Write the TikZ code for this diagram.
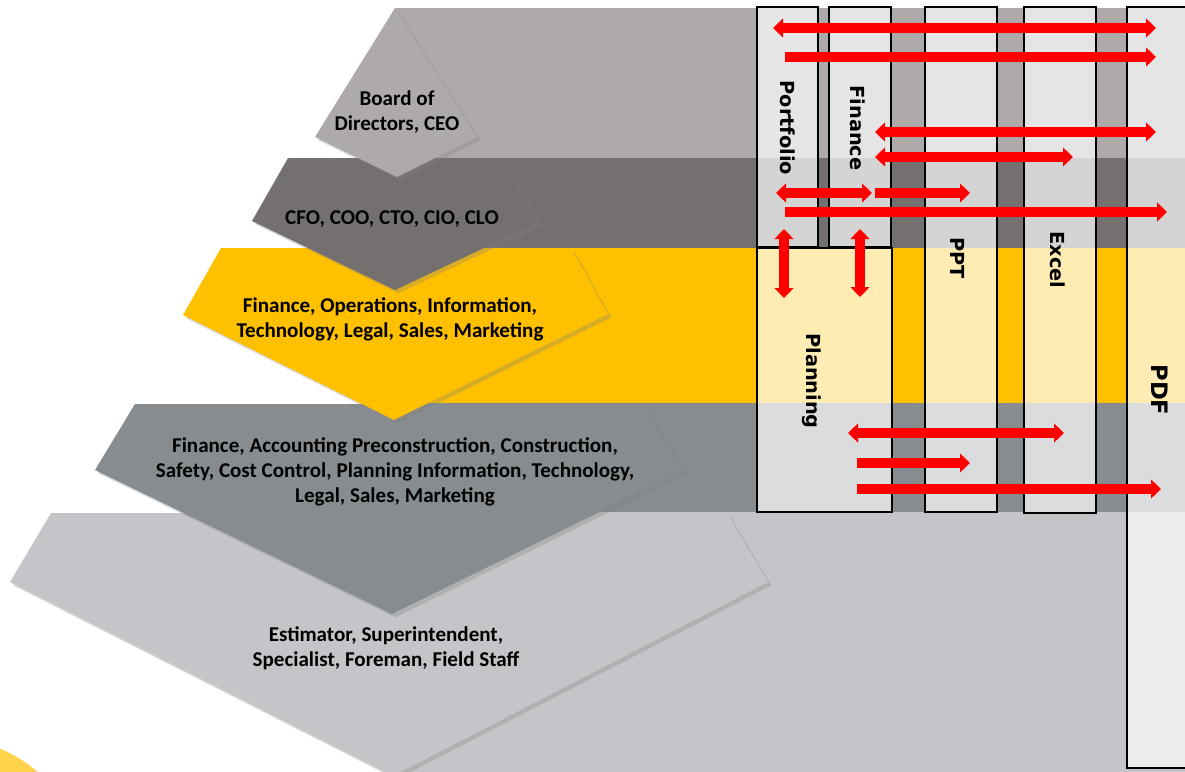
\documentclass[tikz,border=0pt]{standalone}
\usepackage{fontspec}
\setmainfont{Carlito}
\newfontfamily\colfont{DejaVu Sans}
\usetikzlibrary{arrows.meta,shadows}

\definecolor{bandtop}{HTML}{AEAAA9}
\definecolor{bandexec}{HTML}{757070}
\definecolor{bandgold}{HTML}{FFC000}
\definecolor{bandmid}{HTML}{868C8F}
\definecolor{bandlow}{HTML}{C4C5C8}
\definecolor{arrowred}{HTML}{FF0000}

\begin{document}
\begin{tikzpicture}[
    x = 0.75pt,
    y = -0.75pt,
    lvl/.style = {drop shadow={shadow xshift=2.5pt, shadow yshift=-2.5pt, opacity=0.3}},
    lvltext/.style = {align=center, inner sep=0pt,
              font=\fontsize{15.8}{18.75}\selectfont\bfseries},
    colbox/.style = {draw=black, line width=1.8pt, fill=white, fill opacity=0.7},
    collabel/.style = {rotate=-90, inner sep=0pt,
              font=\colfont\fontsize{14.5}{16}\selectfont\bfseries},
    biarrow/.style = {{Triangle[width=14pt,length=7.5pt]}-{Triangle[width=14pt,length=7.5pt]},
              line width=7pt, arrowred},
    onearrow/.style = {-{Triangle[width=14pt,length=7.5pt]}, line width=7pt, arrowred},
    ]

\useasboundingbox[fill=white] (0,0) rectangle (1185,771);

\fill[bandgold!70!white] (-50,872) circle (133);

% levels, lowest first
\fill[bandlow] (395,512) rectangle (1190,775);
\fill[bandlow, lvl] (51,513) -- (727,513) -- (768,582) -- (393,776) -- (10,582) -- cycle;
\node[lvltext] (staff) at (386,648) {Estimator, Superintendent,\\Specialist, Foreman, Field Staff};

\fill[bandmid] (395,403) rectangle (1190,512);
\fill[bandmid, lvl] (135,404) -- (644,404) -- (683,471) -- (392,614) -- (95,470) -- cycle;
\node[lvltext] (managers) at (395,472) {Finance, Accounting Preconstruction, Construction,\\Safety, Cost Control, Planning Information, Technology,\\Legal, Sales, Marketing};

\fill[bandgold] (395,248) rectangle (1190,403);
\fill[bandgold, lvl] (221,248) -- (571,248) -- (608,314) -- (394,420) -- (183,315) -- cycle;
\node[lvltext] (heads) at (390,319) {Finance, Operations, Information,\\Technology, Legal, Sales, Marketing};

\fill[bandexec] (395,158) rectangle (1190,248);
\fill[bandexec, lvl] (288,158) -- (500,158) -- (539,222) -- (395,290) -- (252,221) -- cycle;
\node[lvltext] (execs) at (392,219) {CFO, COO, CTO, CIO, CLO};

\fill[bandtop] (395,8) rectangle (1190,158);
\fill[bandtop, lvl] (395,8) -- (477,137) -- (397,177) -- (315,137) -- cycle;
\node[lvltext] (board) at (397,112) {Board of\\Directors, CEO};

% tools
\draw[colbox] (757,7) rectangle (818,247);
\draw[colbox] (829,7) rectangle (891,247);
\draw[colbox] (757,248) rectangle (892,512);
\draw[colbox] (925,7) rectangle (997,512);
\draw[colbox] (1024,7) rectangle (1096,513);
\draw[colbox] (1127,7) rectangle (1200,768);

\node[collabel] (portfolio) at (788,128) {Portfolio};
\node[collabel] (finance) at (858,128) {Finance};
\node[collabel] (planning) at (812,381) {Planning};
\node[collabel] (ppt) at (958,258) {PPT};
\node[collabel] (excel) at (1058,260) {Excel};
\node[collabel, font=\colfont\fontsize{17}{19}\selectfont\bfseries] (pdf) at (1160,390) {PDF};

% flows
\coordinate (f1a) at (773,28);
\coordinate (f1b) at (1156,28);
\coordinate (f2a) at (785,57);
\coordinate (f2b) at (1156,57);
\coordinate (f3a) at (875,132);
\coordinate (f3b) at (1156,132);
\coordinate (f4a) at (875,157);
\coordinate (f4b) at (1073,157);
\coordinate (f5a) at (776,193);
\coordinate (f5b) at (872,193);
\coordinate (f6a) at (875,193);
\coordinate (f6b) at (970,193);
\coordinate (f7a) at (785,212);
\coordinate (f7b) at (1167,212);
\coordinate (f8a) at (784,229);
\coordinate (f8b) at (784,298);
\coordinate (f9a) at (860,229);
\coordinate (f9b) at (860,297);
\coordinate (f10a) at (848,433);
\coordinate (f10b) at (1064,433);
\coordinate (f11a) at (857,463);
\coordinate (f11b) at (970,463);
\coordinate (f12a) at (857,489);
\coordinate (f12b) at (1161,489);

\draw[biarrow] (f1a) -- (f1b);
\draw[onearrow] (f2a) -- (f2b);
\draw[biarrow] (f3a) -- (f3b);
\draw[biarrow] (f4a) -- (f4b);
\draw[biarrow] (f5a) -- (f5b);
\draw[onearrow] (f6a) -- (f6b);
\draw[onearrow] (f7a) -- (f7b);
\draw[biarrow] (f8a) -- (f8b);
\draw[biarrow] (f9a) -- (f9b);
\draw[biarrow] (f10a) -- (f10b);
\draw[onearrow] (f11a) -- (f11b);
\draw[onearrow] (f12a) -- (f12b);

\end{tikzpicture}
\end{document}
